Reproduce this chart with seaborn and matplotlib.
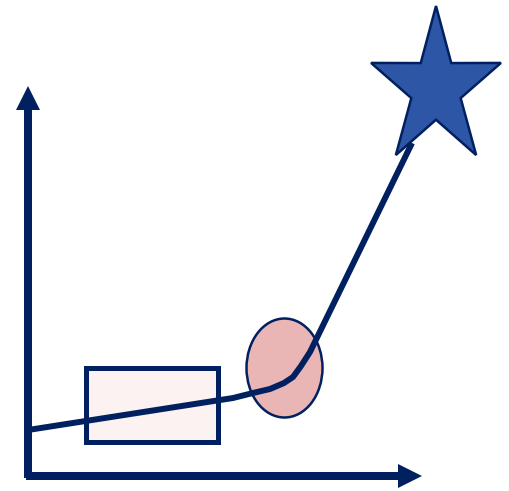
import numpy as np
import pandas as pd
import matplotlib
matplotlib.use('Agg')
import matplotlib.pyplot as plt
import seaborn as sns
from matplotlib.patches import Rectangle, Ellipse, Polygon

# 画布按像素坐标 (510 x 491), y 轴向下
W, H = 510, 491

NAVY = '#002060'
STAR_BLUE = '#2E56A6'
ELLIPSE_PINK = '#E9B5B5'
RECT_PINK = '#FBF2F1'

# 折线路径 (从左下缓慢上升, 然后急剧上升到星星)
path_x = [28, 233, 253, 270, 284, 293, 301, 310, 412]
path_y = [430, 398, 393, 389, 383, 377, 366, 352, 143]

# 坐标轴箭头: 起点 -> 终点
yaxis_start, yaxis_end = (28, 478), (28, 86)
xaxis_start, xaxis_end = (26, 476), (422, 476)

# 矩形 (左, 上, 宽, 高), 椭圆 (中心x, 中心y, 宽, 高)
rect_box = [86.5, 367.5, 132, 74]
ellipse_box = [284.5, 368, 76, 99]

# 星星 (中心x, 中心y, 水平半径, 垂直半径, 内外半径比)
star_box = [436, 88.4, 68.3, 82.4, 0.38]

sns.set_theme(style='white')

fig = plt.figure(figsize=(W / 100, H / 100), dpi=100)
ax = fig.add_axes([0, 0, 1, 1])
ax.set_xlim(0, W)
ax.set_ylim(H, 0)
ax.set_axis_off()

# 坐标轴箭头
for (x0, y0), (x1, y1) in [(yaxis_start, yaxis_end), (xaxis_start, xaxis_end)]:
    ax.arrow(x0, y0, x1 - x0, y1 - y0, width=8, head_width=24, head_length=24,
             length_includes_head=True, color=NAVY, linewidth=0, zorder=3)

# 矩形
rx, ry, rw, rh = rect_box
ax.add_patch(Rectangle((rx, ry), rw, rh, facecolor=RECT_PINK, edgecolor=NAVY,
                       linewidth=3.6, zorder=2))

# 椭圆
ex, ey, ew, eh = ellipse_box
ax.add_patch(Ellipse((ex, ey), ew, eh, facecolor=ELLIPSE_PINK, edgecolor=NAVY,
                     linewidth=1.8, zorder=2))

# 折线
df = pd.DataFrame({'x': path_x, 'y': path_y})
sns.lineplot(data=df, x='x', y='y', sort=False, color=NAVY, linewidth=4.3,
             solid_capstyle='butt', solid_joinstyle='round', ax=ax, zorder=4)

# 星星
cx, cy, sx, sy, ratio = star_box
ang = np.deg2rad(np.arange(10) * 36)
rad = np.where(np.arange(10) % 2 == 0, 1.0, ratio)
verts = np.column_stack([cx + sx * rad * np.sin(ang), cy - sy * rad * np.cos(ang)])
ax.add_patch(Polygon(verts, closed=True, facecolor=STAR_BLUE, edgecolor=NAVY,
                     linewidth=1.8, zorder=5))

ax.set_xlim(0, W)
ax.set_ylim(H, 0)
ax.set_xlabel('')
ax.set_ylabel('')

fig.savefig('out.png', dpi=100)
